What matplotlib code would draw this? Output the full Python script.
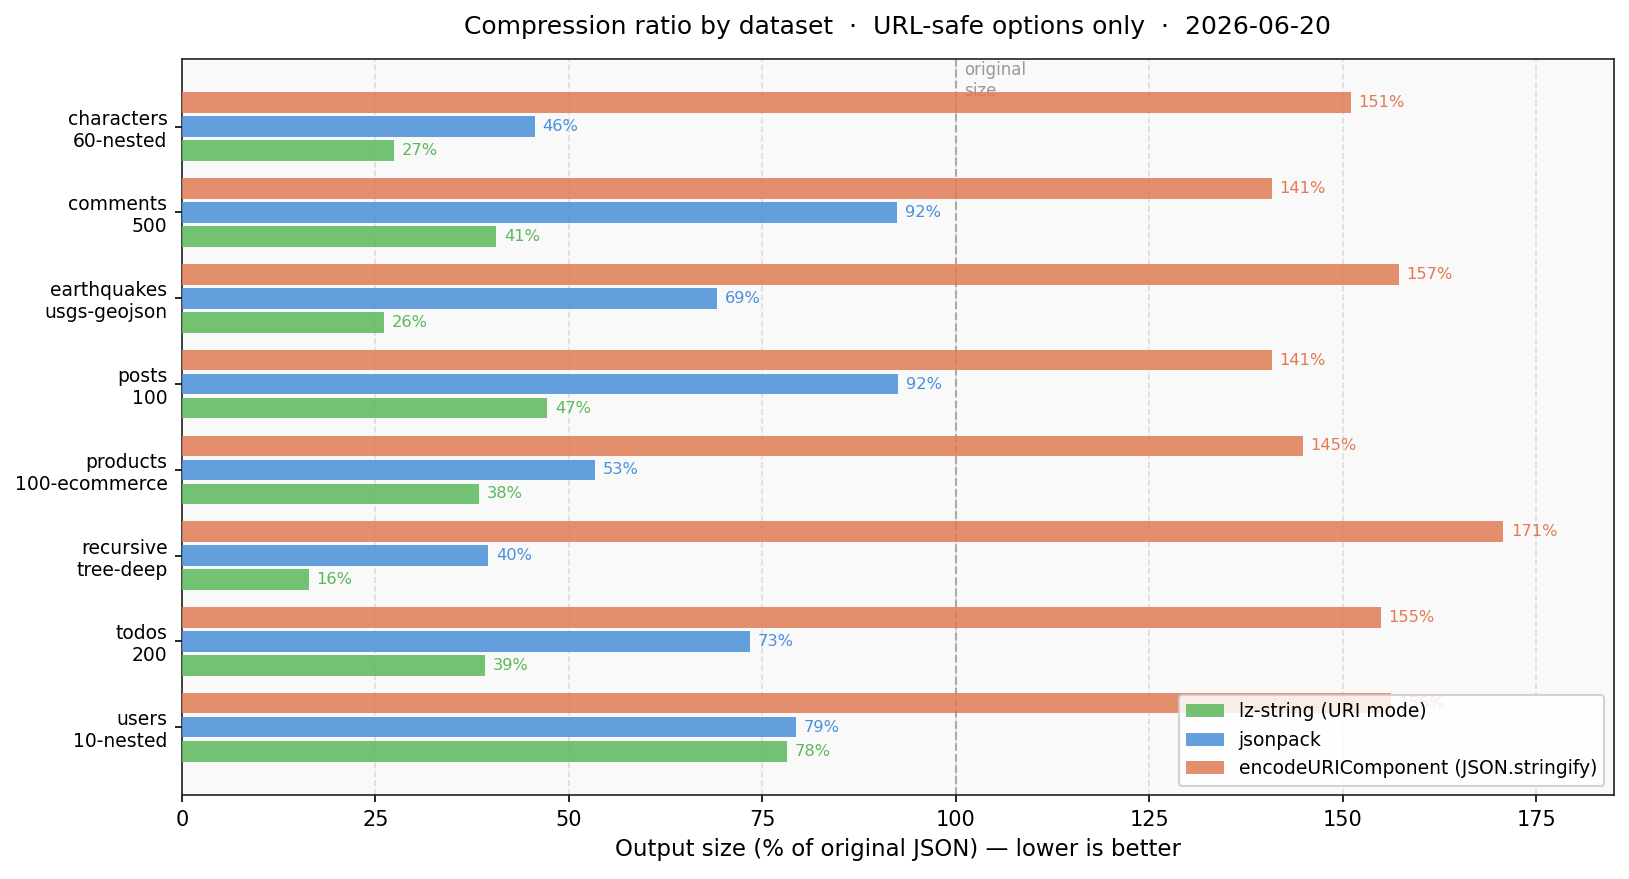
import matplotlib
matplotlib.use("Agg")
import matplotlib.pyplot as plt
from matplotlib.transforms import blended_transform_factory
import numpy as np

categories = ["characters\n60-nested", "comments\n500", "earthquakes\nusgs-geojson",
              "posts\n100", "products\n100-ecommerce", "recursive\ntree-deep",
              "todos\n200", "users\n10-nested"]
lz_string = [27.4, 40.6, 26.1, 47.2, 38.4, 16.4, 39.2, 78.2]
jsonpack = [45.6, 92.4, 69.1, 92.5, 53.4, 39.6, 73.4, 79.3]
encode_uri = [151.0, 140.8, 157.2, 140.8, 144.8, 170.7, 154.9, 156.2]
series_names = ["lz-string (URI mode)", "jsonpack", "encodeURIComponent (JSON.stringify)"]
colors = ["#5cb85c", "#4a90d9", "#e07b54"]

DPI = 150
fig = plt.figure(figsize=(1629 / DPI, 879 / DPI), dpi=DPI)
ax = fig.add_axes([0.1117, 0.0956, 0.879, 0.8374])
ax.set_facecolor("#f9f9f9")

y = np.arange(len(categories))
h = 0.24
offsets = [0.28, 0.0, -0.28]
series = [lz_string, jsonpack, encode_uri]
for vals, off, col, name in zip(series, offsets, colors, series_names):
    bars = ax.barh(y + off, vals, height=h, color=col, alpha=0.85, label=name, zorder=3)
    for b, v in zip(bars, vals):
        ax.text(v + 1.0, b.get_y() + b.get_height() / 2, f"{round(v):.0f}%",
                va="center", ha="left", fontsize=7.8, color=col, zorder=4)

ax.set_yticks(y)
ax.set_yticklabels(categories, fontsize=9)
ax.invert_yaxis()
ax.set_xlim(0, 185)
ax.set_xticks([0, 25, 50, 75, 100, 125, 150, 175])
ax.tick_params(axis="x", labelsize=10)
ax.grid(axis="x", linestyle="--", color="#dddddd", linewidth=0.8, zorder=0)
ax.set_axisbelow(True)

ax.axvline(100, color="#aaaaaa", linestyle="--", linewidth=1.0, zorder=2)
trans = blended_transform_factory(ax.transData, ax.transAxes)
ax.text(101, 0.997, "original\nsize", color="#999999", fontsize=8, va="top", ha="left",
        transform=trans, zorder=2)

ax.set_xlabel("Output size (% of original JSON) — lower is better", fontsize=11)
ax.set_title("Compression ratio by dataset  ·  URL-safe options only  ·  2026-06-20",
             fontsize=12, pad=12)
leg = ax.legend(loc="lower right", fontsize=9, framealpha=0.85)
for sp in ax.spines.values():
    sp.set_color("#222222")
fig.savefig("out.png", dpi=DPI)
